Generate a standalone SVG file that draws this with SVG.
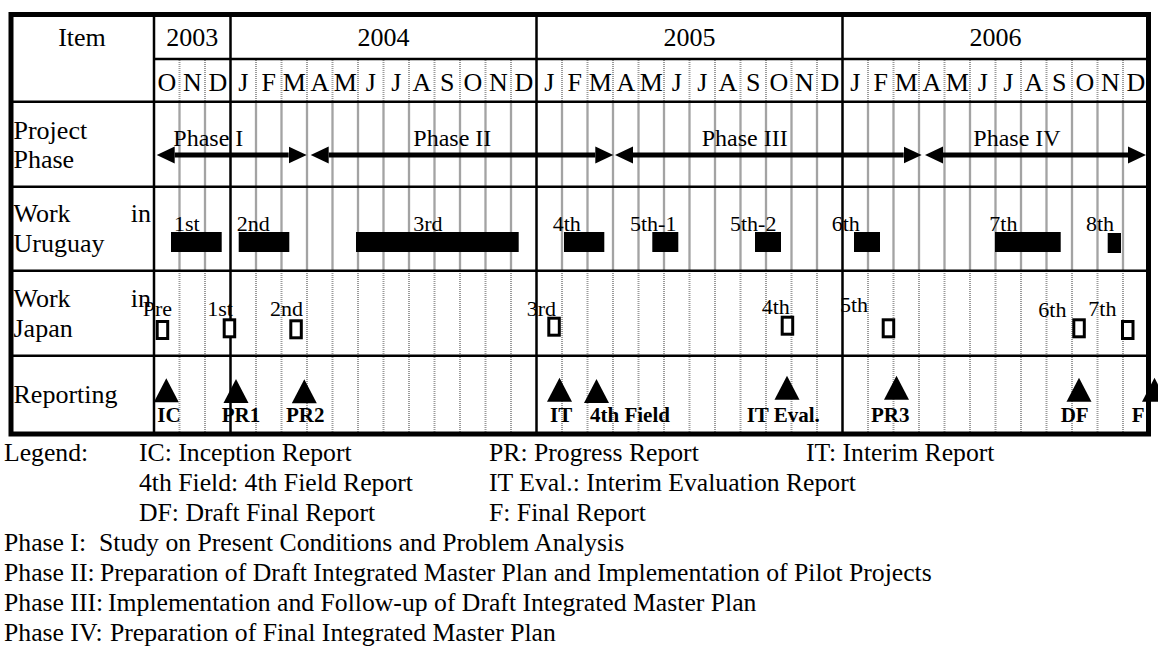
<svg xmlns="http://www.w3.org/2000/svg" xmlns:xlink="http://www.w3.org/1999/xlink" width="1158" height="647" viewBox="0 0 1158 647">
<style>
text{font-family:"Liberation Serif","Times New Roman",serif;fill:#000}
.t{font-size:26px}
.lg{font-size:25.7px}
.ph{font-size:24px}
.sm{font-size:22px}
.b{font-size:21px;font-weight:bold}
.mid{text-anchor:middle}
.end{text-anchor:end}
.blk{stroke:#000;stroke-width:2.5;fill:none}
.gs{stroke:#a3a3a3;stroke-width:2.3;fill:none}
.gd{stroke:#9a9a9a;stroke-width:2;stroke-dasharray:1 1;fill:none}
.bar{fill:#000}
.sq{fill:#fff;stroke:#000;stroke-width:3}
.tri{fill:#000}
.arr{stroke:#000;stroke-width:5;fill:none;marker-start:url(#ah);marker-end:url(#ah)}
</style>
<defs>
<marker id="ah" markerUnits="userSpaceOnUse" markerWidth="20" markerHeight="20" refX="0" refY="9" orient="auto-start-reverse" viewBox="0 0 20 18">
<path d="M0 0.5L18 9L0 17.5Z" fill="#000"/>
</marker>
<path id="tri" d="M0 0L12.5 24L-12.5 24Z"/>
<rect id="sq" width="10.5" height="17"/>
</defs>
<rect width="1158" height="647" fill="#fff"/>

<g id="grid">
<path class="gd" d="M179.5 60V101M205 60V101M256 60V101M281.5 60V101M307 60V101M332.5 60V101M358 60V101M383.5 60V101M409 60V101M434.5 60V101M460 60V101M485.5 60V101M511 60V101M562 60V101M587.5 60V101M613 60V101M638.5 60V101M664 60V101M689.5 60V101M715 60V101M740.5 60V101M766 60V101M791.5 60V101M817 60V101M868 60V101M893.5 60V101M919 60V101M944.5 60V101M970 60V101M995.5 60V101M1021 60V101M1046.5 60V101M1072 60V101M1097.5 60V101M1123 60V101"/>
<path class="gs" d="M179.5 102V270M205 102V270M256 102V270M281.5 102V270M307 102V270M332.5 102V270M358 102V270M383.5 102V270M409 102V270M434.5 102V270M460 102V270M485.5 102V270M511 102V270M562 102V270M587.5 102V270M613 102V270M638.5 102V270M664 102V270M689.5 102V270M715 102V270M740.5 102V270M766 102V270M791.5 102V270M817 102V270M868 102V270M893.5 102V270M919 102V270M944.5 102V270M970 102V270M995.5 102V270M1021 102V270M1046.5 102V270M1072 102V270M1097.5 102V270M1123 102V270"/>
<path class="gd" d="M179.5 271V433M205 271V433M256 271V433M281.5 271V433M307 271V433M332.5 271V433M358 271V433M383.5 271V433M409 271V433M434.5 271V433M460 271V433M485.5 271V433M511 271V433M562 271V433M587.5 271V433M613 271V433M638.5 271V433M664 271V433M689.5 271V433M715 271V433M740.5 271V433M766 271V433M791.5 271V433M817 271V433M868 271V433M893.5 271V433M919 271V433M944.5 271V433M970 271V433M995.5 271V433M1021 271V433M1046.5 271V433M1072 271V433M1097.5 271V433M1123 271V433"/>
<path class="blk" d="M154 14.5V434M230.5 14.5V434M536.5 14.5V434M842.5 14.5V434M154 59H1148.5M11 101.7H1148.5M11 186.7H1148.5M11 270.7H1148.5M11 355.7H1148.5"/>
<rect x="11" y="14.5" width="1137.5" height="419.5" fill="none" stroke="#000" stroke-width="5"/>
</g>

<g id="header">
<text class="t mid" x="82" y="46">Item</text>
<text class="t mid" x="192.3" y="46">2003</text>
<text class="t mid" x="383.5" y="46">2004</text>
<text class="t mid" x="689.5" y="46">2005</text>
<text class="t mid" x="995.5" y="46">2006</text>
<text class="t mid" y="91"><tspan x="166.8">O</tspan><tspan x="192.3">N</tspan><tspan x="217.8">D</tspan><tspan x="243.3">J</tspan><tspan x="268.8">F</tspan><tspan x="294.3">M</tspan><tspan x="319.8">A</tspan><tspan x="345.3">M</tspan><tspan x="370.8">J</tspan><tspan x="396.3">J</tspan><tspan x="421.8">A</tspan><tspan x="447.3">S</tspan><tspan x="472.8">O</tspan><tspan x="498.3">N</tspan><tspan x="523.8">D</tspan><tspan x="549.3">J</tspan><tspan x="574.8">F</tspan><tspan x="600.3">M</tspan><tspan x="625.8">A</tspan><tspan x="651.3">M</tspan><tspan x="676.8">J</tspan><tspan x="702.3">J</tspan><tspan x="727.8">A</tspan><tspan x="753.3">S</tspan><tspan x="778.8">O</tspan><tspan x="804.3">N</tspan><tspan x="829.8">D</tspan><tspan x="855.3">J</tspan><tspan x="880.8">F</tspan><tspan x="906.3">M</tspan><tspan x="931.8">A</tspan><tspan x="957.3">M</tspan><tspan x="982.8">J</tspan><tspan x="1008.3">J</tspan><tspan x="1033.8">A</tspan><tspan x="1059.3">S</tspan><tspan x="1084.8">O</tspan><tspan x="1110.3">N</tspan><tspan x="1135.8">D</tspan></text>
</g>

<g id="row-labels">
<text class="t" x="13.5" y="139">Project</text>
<text class="t" x="13.5" y="168">Phase</text>
<text class="t" x="13.5" y="222">Work</text>
<text class="t end" x="151" y="222">in</text>
<text class="t" x="13.5" y="252">Uruguay</text>
<text class="t" x="13.5" y="307">Work</text>
<text class="t end" x="151" y="307">in</text>
<text class="t" x="13.5" y="337">Japan</text>
<text class="t" x="13.5" y="403">Reporting</text>
</g>

<g id="connectors">
<path class="arr" d="M174.7 155H288.7"/>
<path class="arr" d="M328.7 155H595.3"/>
<path class="arr" d="M633 155H903.7"/>
<path class="arr" d="M943 155H1128"/>
</g>

<g id="phase-1"><text class="ph" x="173.3" y="146">Phase I</text></g>
<g id="phase-2"><text class="ph" x="413.3" y="146">Phase II</text></g>
<g id="phase-3"><text class="ph" x="701.7" y="146">Phase III</text></g>
<g id="phase-4"><text class="ph" x="973.3" y="146">Phase IV</text></g>

<g id="uruguay-1st"><text class="sm" x="174" y="231">1st</text><rect class="bar" x="171" y="232" width="50.7" height="20"/></g>
<g id="uruguay-2nd"><text class="sm" x="236.7" y="231">2nd</text><rect class="bar" x="238.7" y="232" width="50.6" height="20"/></g>
<g id="uruguay-3rd"><text class="sm" x="413.3" y="231">3rd</text><rect class="bar" x="356" y="232" width="162.7" height="20"/></g>
<g id="uruguay-4th"><text class="sm" x="552.7" y="231">4th</text><rect class="bar" x="564" y="232" width="40.3" height="20"/></g>
<g id="uruguay-5th-1"><text class="sm" x="630" y="231">5th-1</text><rect class="bar" x="652.3" y="232" width="26" height="20"/></g>
<g id="uruguay-5th-2"><text class="sm" x="730" y="231">5th-2</text><rect class="bar" x="755" y="232" width="26" height="20"/></g>
<g id="uruguay-6th"><text class="sm" x="831.7" y="231">6th</text><rect class="bar" x="854" y="232" width="26" height="20"/></g>
<g id="uruguay-7th"><text class="sm" x="989.3" y="231">7th</text><rect class="bar" x="995" y="232" width="65.7" height="20"/></g>
<g id="uruguay-8th"><text class="sm" x="1086" y="231">8th</text><rect class="bar" x="1107.7" y="233" width="13.3" height="20"/></g>

<g id="japan-pre"><text class="sm" x="142.7" y="316">Pre</text><use href="#sq" class="sq" x="157.2" y="321.5"/></g>
<g id="japan-1st"><text class="sm" x="207.3" y="316">1st</text><use href="#sq" class="sq" x="224.2" y="319.8"/></g>
<g id="japan-2nd"><text class="sm" x="270" y="316">2nd</text><use href="#sq" class="sq" x="290.8" y="320.8"/></g>
<g id="japan-3rd"><text class="sm" x="526.7" y="316">3rd</text><use href="#sq" class="sq" x="548.8" y="318.2"/></g>
<g id="japan-4th"><text class="sm" x="761.7" y="313.5">4th</text><use href="#sq" class="sq" x="782.2" y="317.2"/></g>
<g id="japan-5th"><text class="sm" x="840" y="312">5th</text><use href="#sq" class="sq" x="883.2" y="319.8"/></g>
<g id="japan-6th"><text class="sm" x="1038.3" y="316.5">6th</text><use href="#sq" class="sq" x="1073.8" y="319.8"/></g>
<g id="japan-7th"><text class="sm" x="1088.3" y="316">7th</text><use href="#sq" class="sq" x="1122.5" y="321.5"/></g>

<g id="report-ic"><use href="#tri" class="tri" x="166.3" y="378.3"/><text class="b" x="157.3" y="422">IC</text></g>
<g id="report-pr1"><use href="#tri" class="tri" x="236" y="379"/><text class="b" x="221.7" y="422">PR1</text></g>
<g id="report-pr2"><use href="#tri" class="tri" x="304.3" y="379.3"/><text class="b" x="286" y="422">PR2</text></g>
<g id="report-it"><use href="#tri" class="tri" x="559.5" y="377.7"/><text class="b" x="550" y="422">IT</text></g>
<g id="report-4th-field"><use href="#tri" class="tri" x="596.5" y="379"/><text class="b" x="590" y="422">4th Field</text></g>
<g id="report-it-eval"><use href="#tri" class="tri" x="787" y="375.7"/><text class="b" x="746.7" y="422">IT Eval.</text></g>
<g id="report-pr3"><use href="#tri" class="tri" x="896.5" y="375.7"/><text class="b" x="871" y="422">PR3</text></g>
<g id="report-df"><use href="#tri" class="tri" x="1079" y="377.7"/><text class="b" x="1060.7" y="422">DF</text></g>
<g id="report-f"><use href="#tri" class="tri" x="1154.5" y="377.7"/><text class="b" x="1131.7" y="422">F</text></g>

<g id="legend">
<text class="lg" x="4" y="461">Legend:</text>
<text class="lg" x="139" y="461">IC: Inception Report</text>
<text class="lg" x="489" y="461">PR: Progress Report</text>
<text class="lg" x="806" y="461">IT: Interim Report</text>
<text class="lg" x="139" y="491">4th Field: 4th Field Report</text>
<text class="lg" x="489" y="491">IT Eval.: Interim Evaluation Report</text>
<text class="lg" x="139" y="521">DF: Draft Final Report</text>
<text class="lg" x="489" y="521">F: Final Report</text>
<text class="lg" x="4" y="551">Phase I:</text>
<text class="lg" x="99" y="551">Study on Present Conditions and Problem Analysis</text>
<text class="lg" x="4" y="581">Phase II:</text>
<text class="lg" x="100" y="581">Preparation of Draft Integrated Master Plan and Implementation of Pilot Projects</text>
<text class="lg" x="4" y="611">Phase III:</text>
<text class="lg" x="108" y="611">Implementation and Follow-up of Draft Integrated Master Plan</text>
<text class="lg" x="4" y="641">Phase IV:</text>
<text class="lg" x="110" y="641">Preparation of Final Integrated Master Plan</text>
</g>
</svg>
